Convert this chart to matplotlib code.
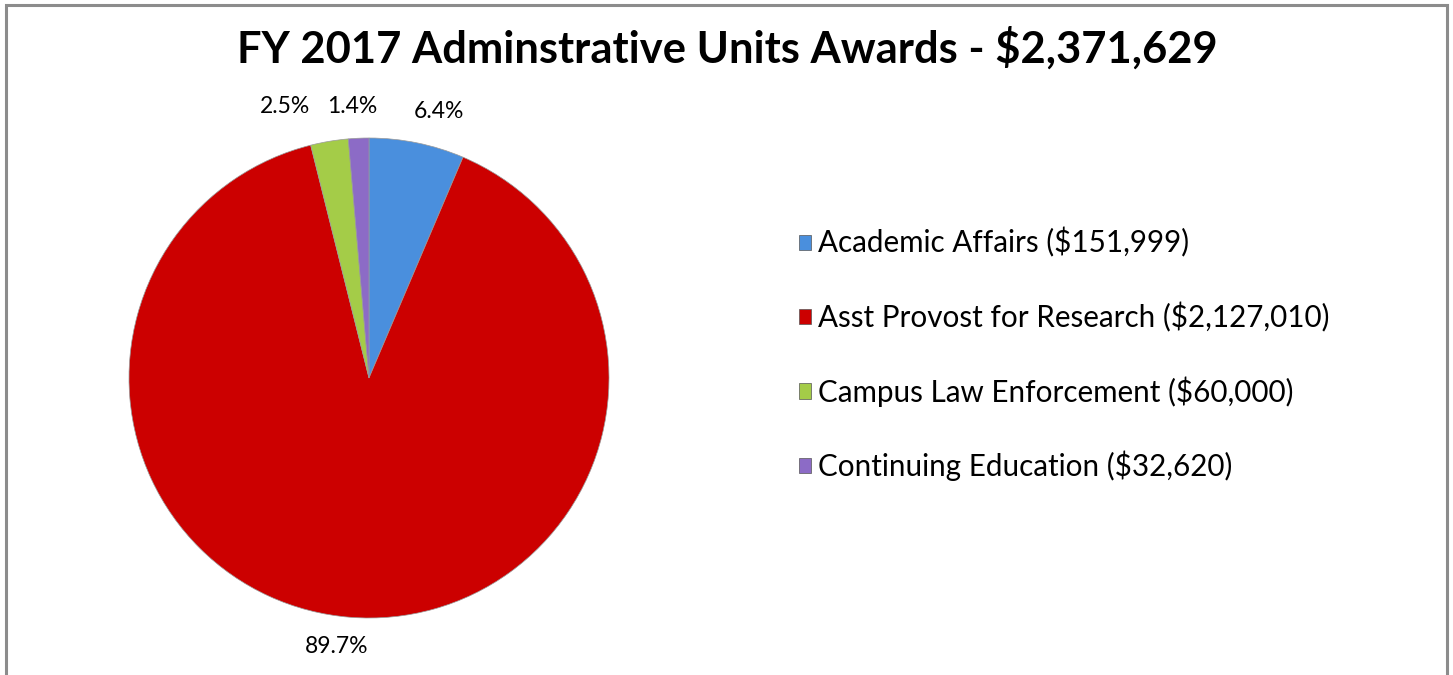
import matplotlib
matplotlib.use("Agg")
import matplotlib.pyplot as plt
from matplotlib.patches import Rectangle

plt.rcParams['font.family'] = ['Lato', 'DejaVu Sans']

# datos del gráfico
unidades = ['Academic Affairs', 'Asst Provost for Research',
            'Campus Law Enforcement', 'Continuing Education']
montos = [151999, 2127010, 60000, 32620]
porcentajes = ['6.4%', '89.7%', '2.5%', '1.4%']
colores = ['#4A8FDD', '#CC0000', '#A4CC48', '#8C6BC6']

total = sum(montos)
W, H = 1453, 675
fig = plt.figure(figsize=(W / 100, H / 100), dpi=100)

# marco gris
fig.patches.append(Rectangle((6 / W, -0.01), (1441 / W), (H - 5) / H + 0.01,
                             transform=fig.transFigure, fill=False,
                             edgecolor='#8C8C8C', linewidth=2.2))

fig.text(727 / W, 1 - 48 / H,
         f"FY 2017 Adminstrative Units Awards - \\${total:,.0f}",
         ha='center', va='center', fontsize=31.3, fontweight='bold')

# pastel
cx, cy, r = 369, 378, 240
ax = fig.add_axes([(cx - r) / W, (H - cy - r) / H, 2 * r / W, 2 * r / H])
wedges, _ = ax.pie(montos, colors=colores, startangle=90, counterclock=False,
                   radius=1, wedgeprops=dict(edgecolor='#9a9a9a', linewidth=0.5))
ax.set_xlim(-1, 1)
ax.set_ylim(-1, 1)
ax.set_aspect('equal')
ax.axis('off')

# etiquetas de porcentaje (posiciones estilo Excel)
pos_etiquetas = [(0.29, 1.112), (-0.133, -1.12), (-0.35, 1.133), (-0.071, 1.133)]
for txt, (x, y) in zip(porcentajes, pos_etiquetas):
    ax.text(x, y, txt, ha='center', va='center', fontsize=16.5, clip_on=False)

# leyenda
handles = [Rectangle((0, 0), 1, 1, facecolor=c, edgecolor='#555555', linewidth=0.5)
           for c in colores]
etiquetas = [f"{u} (\\${m:,.0f})" for u, m in zip(unidades, montos)]
fig.legend(handles, etiquetas, loc='upper left',
           bbox_to_anchor=(784 / W, 1 - 213 / H), frameon=False,
           fontsize=21.3, handlelength=0.42, handleheight=0.42,
           handletextpad=0.22, labelspacing=1.49, borderpad=0)

plt.savefig('out.png', dpi=100)
plt.close()
